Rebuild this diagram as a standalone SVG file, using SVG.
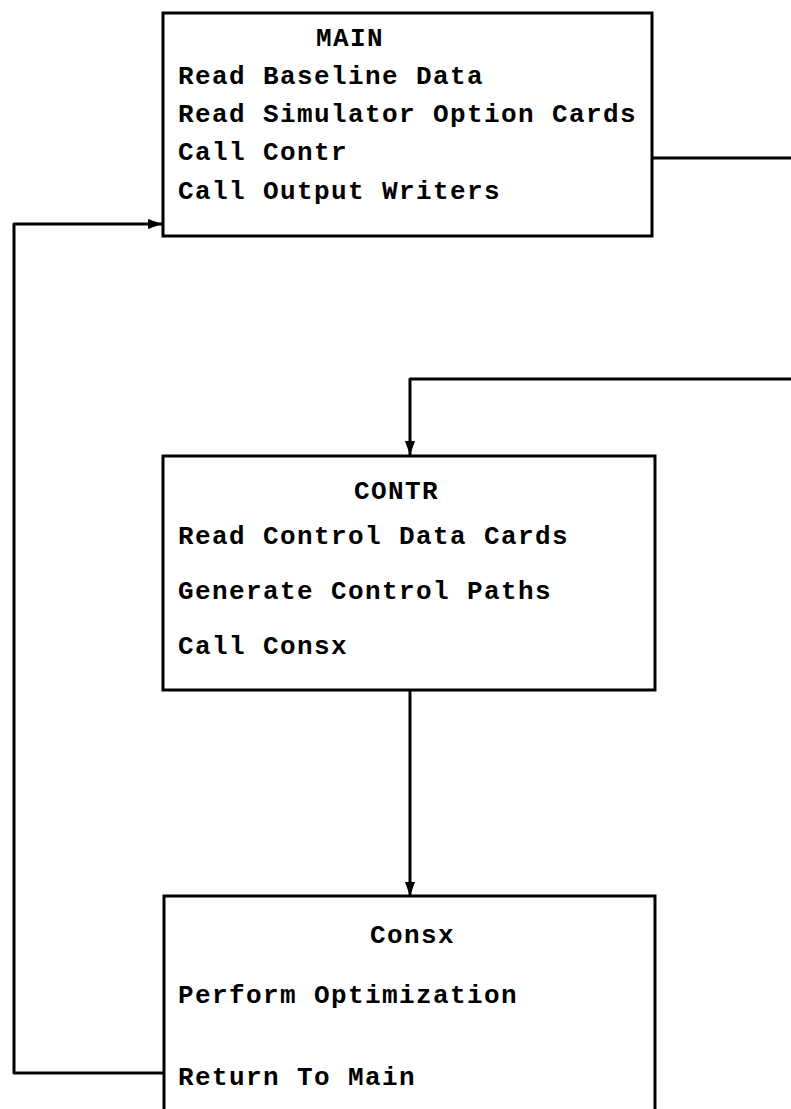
<svg xmlns="http://www.w3.org/2000/svg" width="791" height="1109" viewBox="0 0 791 1109">
<style>
.box{fill:none;stroke:#000;stroke-width:3}
.t{font-family:"Liberation Mono","DejaVu Sans Mono",monospace;font-weight:bold;font-size:26px;letter-spacing:1.4px;fill:#000}
.c{fill:none;stroke:#000;stroke-width:3;stroke-linejoin:round}
</style>
<defs>
<marker id="ah" viewBox="0 0 14 10" refX="14" refY="5" markerWidth="14" markerHeight="10" markerUnits="userSpaceOnUse" orient="auto">
<path d="M0,0 L14,5 L0,10 Z" fill="#000"/>
</marker>
</defs>
<rect width="791" height="1109" fill="#fff"/>
<g id="connectors">
<path class="c" d="M652,158 H791"/>
<path class="c" d="M791,379 H410 V455" marker-end="url(#ah)"/>
<path class="c" d="M410,691 V896" marker-end="url(#ah)"/>
<path class="c" d="M164,1073 H14 V224 H162" marker-end="url(#ah)"/>
</g>
<g id="main">
<rect class="box" x="163" y="13" width="489" height="223"/>
<text class="t" x="316" y="46">MAIN</text>
<text class="t" x="178" y="84">Read Baseline Data</text>
<text class="t" x="178" y="122">Read Simulator Option Cards</text>
<text class="t" x="178" y="160">Call Contr</text>
<text class="t" x="178" y="199">Call Output Writers</text>
</g>
<g id="contr">
<rect class="box" x="163" y="456" width="492" height="234"/>
<text class="t" x="354" y="499">CONTR</text>
<text class="t" x="178" y="544">Read Control Data Cards</text>
<text class="t" x="178" y="599">Generate Control Paths</text>
<text class="t" x="178" y="654">Call Consx</text>
</g>
<g id="consx">
<path class="box" d="M164,1112 V896 H655 V1112"/>
<text class="t" x="370" y="943">Consx</text>
<text class="t" x="178" y="1003">Perform Optimization</text>
<text class="t" x="178" y="1085">Return To Main</text>
</g>
</svg>
